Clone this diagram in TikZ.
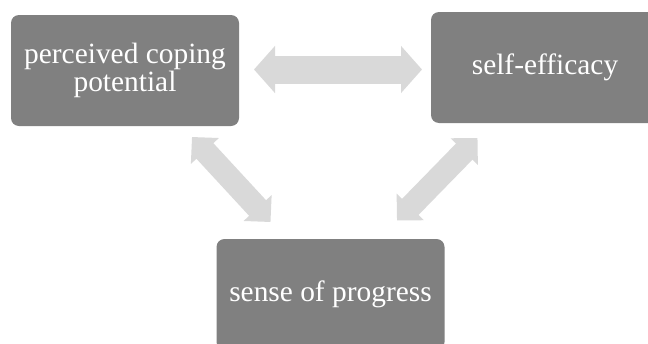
\documentclass[tikz,border=0pt]{standalone}
\usepackage{fontspec}
\setmainfont{Liberation Serif}
\usetikzlibrary{arrows.meta}
\definecolor{boxgray}{HTML}{808080}
\definecolor{arrowgray}{HTML}{D9D9D9}
\tikzset{
  box/.style={rectangle, rounded corners=8pt, fill=boxgray, text=white, inner sep=0pt,
    minimum width=228pt, minimum height=111pt, align=center,
    font=\fontsize{29.4pt}{28pt}\selectfont},
  hbig/.style={draw=arrowgray, line width=28pt, {Triangle[width=46pt,length=21pt]}-{Triangle[width=46pt,length=21pt]}},
  dbig/.style={draw=arrowgray, line width=23pt, {Triangle[width=37pt,length=19pt]}-{Triangle[width=37pt,length=19pt]}}
}
\begin{document}
\begin{tikzpicture}[x=1pt,y=-1pt]
\useasboundingbox (0,0) rectangle (648,343);
\clip (0,0) rectangle (648,343);
\fill[white] (0,0) rectangle (648,343);
\node[box] (pcp) at (125,70.5) {\raisebox{-2pt}{perceived coping}\\\raisebox{-2pt}{potential}};
\node[box] (se) at (545,67.5) {\raisebox{-2pt}{self-efficacy}};
\node[box] (sp) at (330.5,294.5) {sense of progress};
\coordinate (h1) at (254,69.5);
\coordinate (h2) at (422,69.5);
\coordinate (l1) at (192,137);
\coordinate (l2) at (270.5,222);
\coordinate (r1) at (477.5,138);
\coordinate (r2) at (397,220.5);
\draw[hbig] (h1) -- (h2);
\draw[dbig] (l1) -- (l2);
\draw[dbig] (r1) -- (r2);
\end{tikzpicture}
\end{document}
